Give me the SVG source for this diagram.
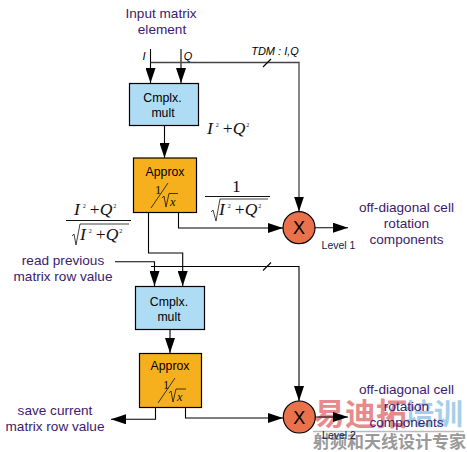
<svg xmlns="http://www.w3.org/2000/svg" width="467" height="452" viewBox="0 0 467 452">
<defs>
<marker id="ah" markerUnits="userSpaceOnUse" markerWidth="16" markerHeight="10" refX="15" refY="5" orient="auto"><path d="M0,0 L15,5 L0,10 Z" fill="#000"/></marker>
<marker id="av" markerUnits="userSpaceOnUse" markerWidth="16" markerHeight="10" refX="15" refY="5" orient="auto"><path d="M0,0 L15,5 L0,10 Z" fill="#000"/></marker>
</defs>
<style>
text{font-family:"Liberation Sans",Arial,sans-serif;font-size:12.300px;text-anchor:middle;fill:#000}
.lab{fill:#3c1a6e;font-size:13.600px}
.lvl{fill:#14204a;font-size:10.500px}
.io{font-size:11px;font-style:italic}
.x{font-size:18px}
.m{font-family:"Liberation Serif","Times New Roman",serif;font-size:17.500px;text-anchor:start;fill:#111}
.i{font-style:italic}
.s{font-size:6px}
.q{font-size:12.500px}
.b{fill:#aedcf5;stroke:#000;stroke-width:1.2}
.o{fill:#f6b01e;stroke:#000;stroke-width:1.2}
.c{fill:#e9714c;stroke:#000;stroke-width:1.2}
.w{fill:none;stroke:#000;stroke-width:1.1}
.g{fill:none;stroke:#444;stroke-width:1.3}
.r{fill:none;stroke:#111;stroke-width:.8}
.wm{font-family:"Noto Sans CJK SC",sans-serif;text-anchor:start}
</style>
<g id="watermark">
<text class="wm" x="314" y="425" style="font-size:31px;fill:#e8898c;font-weight:bold">易迪拓</text>
<text class="wm" x="405" y="425" style="font-size:29px;fill:#a5cfe8;font-weight:bold">培训</text>
<path d="M313,431.500H464" stroke="#bbb" stroke-width="1.500"/>
<text class="wm" x="313" y="448" style="font-size:17px;fill:#999;font-weight:bold">射频和天线设计专家</text>
</g>
<g id="connectors">
<path class="w" d="M150.500,49V83" marker-end="url(#av)"/>
<path class="w" d="M181,49V83" marker-end="url(#av)"/>
<path class="g" d="M150.500,62.500H299V211.500" marker-end="url(#av)"/>
<path class="w" d="M263,67L271,59"/>
<path class="w" d="M164.500,125V158" marker-end="url(#av)"/>
<path class="w" d="M178.500,212.500V228H283" marker-end="url(#ah)"/>
<path class="w" d="M148.500,212.500V253H182.700V286" marker-end="url(#av)"/>
<path class="w" d="M115,261.700H154.500V286" marker-end="url(#av)"/>
<path class="w" d="M151,266.500H299V401" marker-end="url(#av)"/>
<path class="w" d="M263,270.500L271,262.500"/>
<path class="w" d="M170,329.500V353" marker-end="url(#av)"/>
<path class="w" d="M155.500,407V419.300H111" marker-end="url(#ah)"/>
<path class="w" d="M185.500,407V418H283" marker-end="url(#ah)"/>
<path class="w" d="M315,227.700H348" marker-end="url(#ah)"/>
<path class="w" d="M315,417H348" marker-end="url(#ah)"/>
</g>
<g id="input-label"><text class="lab" x="161" y="18">Input matrix</text><text class="lab" x="162" y="34">element</text></g>
<g id="io-labels"><text class="io" x="144" y="60">I</text><text class="io" x="188" y="60">Q</text><text class="io" x="275" y="55">TDM : I,Q</text></g>
<g id="mult1"><rect class="b" x="129.500" y="83.500" width="69" height="42"/><text x="162.500" y="102">Cmplx.</text><text x="163" y="117">mult</text></g>
<g id="approx1"><rect class="o" x="133.500" y="158" width="63" height="54.500"/><text x="165" y="175.500">Approx</text>
<text class="m q" x="155" y="194">1</text><path class="r" d="M151,208L168,183"/><path class="r" d="M162,198L164,196L166,207L169,193.500H178"/><text class="m i q" x="170" y="206">x</text></g>
<g id="mixer1"><circle class="c" cx="299" cy="227.700" r="16"/><text class="x" x="299" y="234">X</text><text class="lvl" x="338.500" y="249">Level 1</text></g>
<g id="out1"><text class="lab" x="406.500" y="212">off-diagonal cell</text><text class="lab" x="406.500" y="228">rotation</text><text class="lab" x="406.500" y="244">components</text></g>
<g id="eq1"><text class="m" x="207" y="134"><tspan class="i">I</tspan><tspan class="s" dy="-7" dx="3">2</tspan><tspan dy="7" dx="4">+</tspan><tspan class="i">Q</tspan><tspan class="s" dy="-7" dx="1">2</tspan></text></g>
<g id="eq2"><text class="m" x="232" y="192">1</text><path class="r" d="M205,196.500H270" style="stroke-width:1"/><path class="r" d="M211,212L213,210L216,221L220,199H268"/><text class="m" x="219" y="215"><tspan class="i">I</tspan><tspan class="s" dy="-7" dx="3">2</tspan><tspan dy="7" dx="4">+</tspan><tspan class="i">Q</tspan><tspan class="s" dy="-7" dx="1">2</tspan></text></g>
<g id="eq3"><text class="m" x="74" y="215"><tspan class="i">I</tspan><tspan class="s" dy="-7" dx="3">2</tspan><tspan dy="7" dx="4">+</tspan><tspan class="i">Q</tspan><tspan class="s" dy="-7" dx="1">2</tspan></text><path class="r" d="M66,220.500H131" style="stroke-width:1"/><path class="r" d="M72,236L74,234L76,245L80,224H129"/><text class="m" x="80" y="240"><tspan class="i">I</tspan><tspan class="s" dy="-7" dx="3">2</tspan><tspan dy="7" dx="4">+</tspan><tspan class="i">Q</tspan><tspan class="s" dy="-7" dx="1">2</tspan></text></g>
<g id="read-label"><text class="lab" x="63" y="265">read previous</text><text class="lab" x="63" y="281">matrix row value</text></g>
<g id="mult2"><rect class="b" x="135.500" y="286.500" width="69" height="43"/><text x="169" y="306">Cmplx.</text><text x="169" y="321">mult</text></g>
<g id="approx2"><rect class="o" x="139.500" y="353.500" width="62" height="54"/><text x="170" y="369.500">Approx</text>
<text class="m q" x="163" y="389">1</text><path class="r" d="M158,403L175,378"/><path class="r" d="M169,393L171,391L173,402L176,389H186"/><text class="m i q" x="177" y="401">x</text></g>
<g id="save-label"><text class="lab" x="55" y="415">save current</text><text class="lab" x="55" y="431">matrix row value</text></g>
<g id="mixer2"><circle class="c" cx="299.300" cy="417" r="16"/><text class="x" x="299.300" y="423.500">X</text><text class="lvl" x="339" y="439">Level 2</text></g>
<g id="out2"><text class="lab" x="406.500" y="394">off-diagonal cell</text><text class="lab" x="406.500" y="411">rotation</text><text class="lab" x="406.500" y="427">components</text></g>
</svg>
